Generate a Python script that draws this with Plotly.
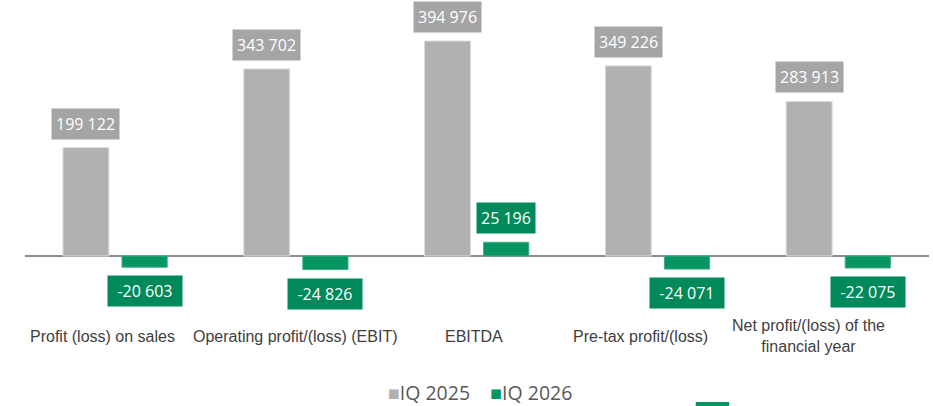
import plotly.graph_objects as go

categories = ["Profit (loss) on sales", "Operating profit/(loss) (EBIT)", "EBITDA",
              "Pre-tax profit/(loss)", "Net profit/(loss) of the<br>financial year"]
series_names = ["IQ 2025", "IQ 2026"]
values_2025 = [199122, 343702, 394976, 349226, 283913]
values_2026 = [-20603, -24826, 25196, -24071, -22075]
label_shifts = [-13, -1, -3, -17, -30]

GREY_BAR = "#b1b1b1"
GREY_LBL = "#a5a5a5"
GREEN_BAR = "#079562"
GREEN_LBL = "#00895a"

def fmt(v):
    s = f"{abs(v):,}".replace(",", " ")
    return ("-" if v < 0 else "") + s

idx = list(range(len(categories)))
fig = go.Figure()
fig.add_trace(go.Bar(x=idx, y=values_2025, name=series_names[0], offset=-0.29, width=0.254,
                     marker=dict(color=GREY_BAR, line=dict(color="#dcdcdc", width=1))))
fig.add_trace(go.Bar(x=idx, y=values_2026, name=series_names[1], offset=0.0365, width=0.25,
                     marker=dict(color=GREEN_BAR, line=dict(color="#3fae86", width=1))))

ann = []
for i in idx:
    for vals, off, w, bg, bw in [(values_2025, -0.29, 0.254, GREY_LBL, None),
                                 (values_2026, 0.0365, 0.25, GREEN_LBL, 66)]:
        v = vals[i]
        a = dict(x=i + off + w / 2, y=v, xref="x", yref="y", text=fmt(v), showarrow=False,
                 font=dict(family="Open Sans", size=16, color="white"),
                 bgcolor=bg, borderpad=4,
                 yanchor="bottom" if v >= 0 else "top",
                 yshift=8 if v >= 0 else -8)
        if bw and v < 0:
            a["width"] = bw
        ann.append(a)
    ann.append(dict(x=i, y=-0.125, xref="x", yref="paper", text=categories[i], showarrow=False,
                    xshift=label_shifts[i], yanchor="middle",
                    font=dict(family="Liberation Sans", size=16, color="#404040")))

ann.append(dict(x=0.5, y=-0.32, xref="paper", yref="paper", showarrow=False, yanchor="middle",
                xshift=3,
                text=(f"<span style='color:{GREY_BAR}'>■</span>{series_names[0]}&nbsp;&nbsp;&nbsp;&nbsp;"
                      f"<span style='color:{GREEN_BAR}'>■</span>{series_names[1]}"),
                font=dict(family="Open Sans", size=19.5, color="#595959")))

fig.update_layout(
    width=933, height=406,
    margin=dict(l=25, r=4, t=10, b=106),
    paper_bgcolor="white", plot_bgcolor="white",
    showlegend=False,
    annotations=ann,
    xaxis=dict(range=[-0.5, 4.5], showticklabels=False, showgrid=False, zeroline=False,
               showline=False, fixedrange=True),
    yaxis=dict(range=[-80830, 451900], showticklabels=False, showgrid=False,
               zeroline=True, zerolinecolor="#8c8c8c", zerolinewidth=2, showline=False),
    shapes=[dict(type="rect", xref="paper", yref="paper", x0=0.742, x1=0.779, y0=-0.37, y1=-0.352,
                 fillcolor=GREEN_BAR, line=dict(width=0))],
)

fig.write_html("out.html", config={"displayModeBar": False},
               post_script="document.body.style.margin='0';document.body.style.overflow='hidden';")
